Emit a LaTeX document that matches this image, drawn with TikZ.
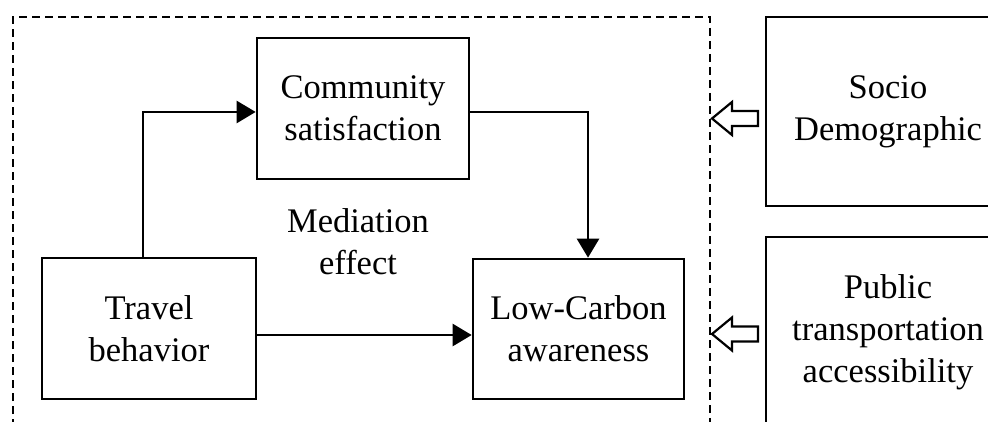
\documentclass[tikz,border=0pt]{standalone}
\usepackage{fontspec}
\setmainfont{Liberation Serif}
\usetikzlibrary{arrows.meta,calc}
\begin{document}
\begin{tikzpicture}[x=1pt,y=-1pt,
  box/.style={draw,line width=2.7pt,align=center,font=\fontsize{34.5}{42}\selectfont,inner sep=0pt},
  arr/.style={line width=2.7pt,-{Triangle[length=19pt,width=22pt]}},
  hollow/.style={draw,line width=2.2pt,fill=white,line join=miter},
  lbl/.style={align=center,font=\fontsize{34.5}{42}\selectfont,inner sep=0pt}]
\useasboundingbox (0,0) rectangle (988,422);
\clip (0,0) rectangle (988,422);
\node[box,minimum width=212pt,minimum height=141pt] (comm) at (363,108.5) {Community\\satisfaction};
\node[box,minimum width=214pt,minimum height=141pt] (travel) at (149,328.5) {Travel\\behavior};
\node[box,minimum width=211pt,minimum height=140pt] (low) at (578.5,329) {Low-Carbon\\awareness};
\node[box,minimum width=244pt,minimum height=189pt] (socio) at (888,111.5) {Socio\\Demographic};
\node[box,minimum width=244pt,minimum height=190pt] (public) at (888,332) {Public\\transportation\\accessibility};
\node[lbl] (med) at (358,242) {Mediation\\effect};
\draw[line width=2.3pt,dash pattern=on 8pt off 5pt] (13,440) |- (710,17) -- (710,440);
\draw[arr] ($(travel.north)+(-6,0)$) |- ($(comm.west)+(0,3.5)$);
\draw[arr] ($(comm.east)+(0,3.5)$) -| ($(low.north)+(9.5,0)$);
\draw[arr] ($(travel.east)+(0,6.5)$) -- ($(low.west)+(0,6)$);
\coordinate (t1) at (712,118.5);
\coordinate (t2) at (712,334);
\draw[hollow] (t1) -- ++(20,-16.5) -- ++(0,9) -- ++(26,0) -- ++(0,15) -- ++(-26,0) -- ++(0,9) -- cycle;
\draw[hollow] (t2) -- ++(20,-16.5) -- ++(0,9) -- ++(26,0) -- ++(0,15) -- ++(-26,0) -- ++(0,9) -- cycle;
\end{tikzpicture}
\end{document}
